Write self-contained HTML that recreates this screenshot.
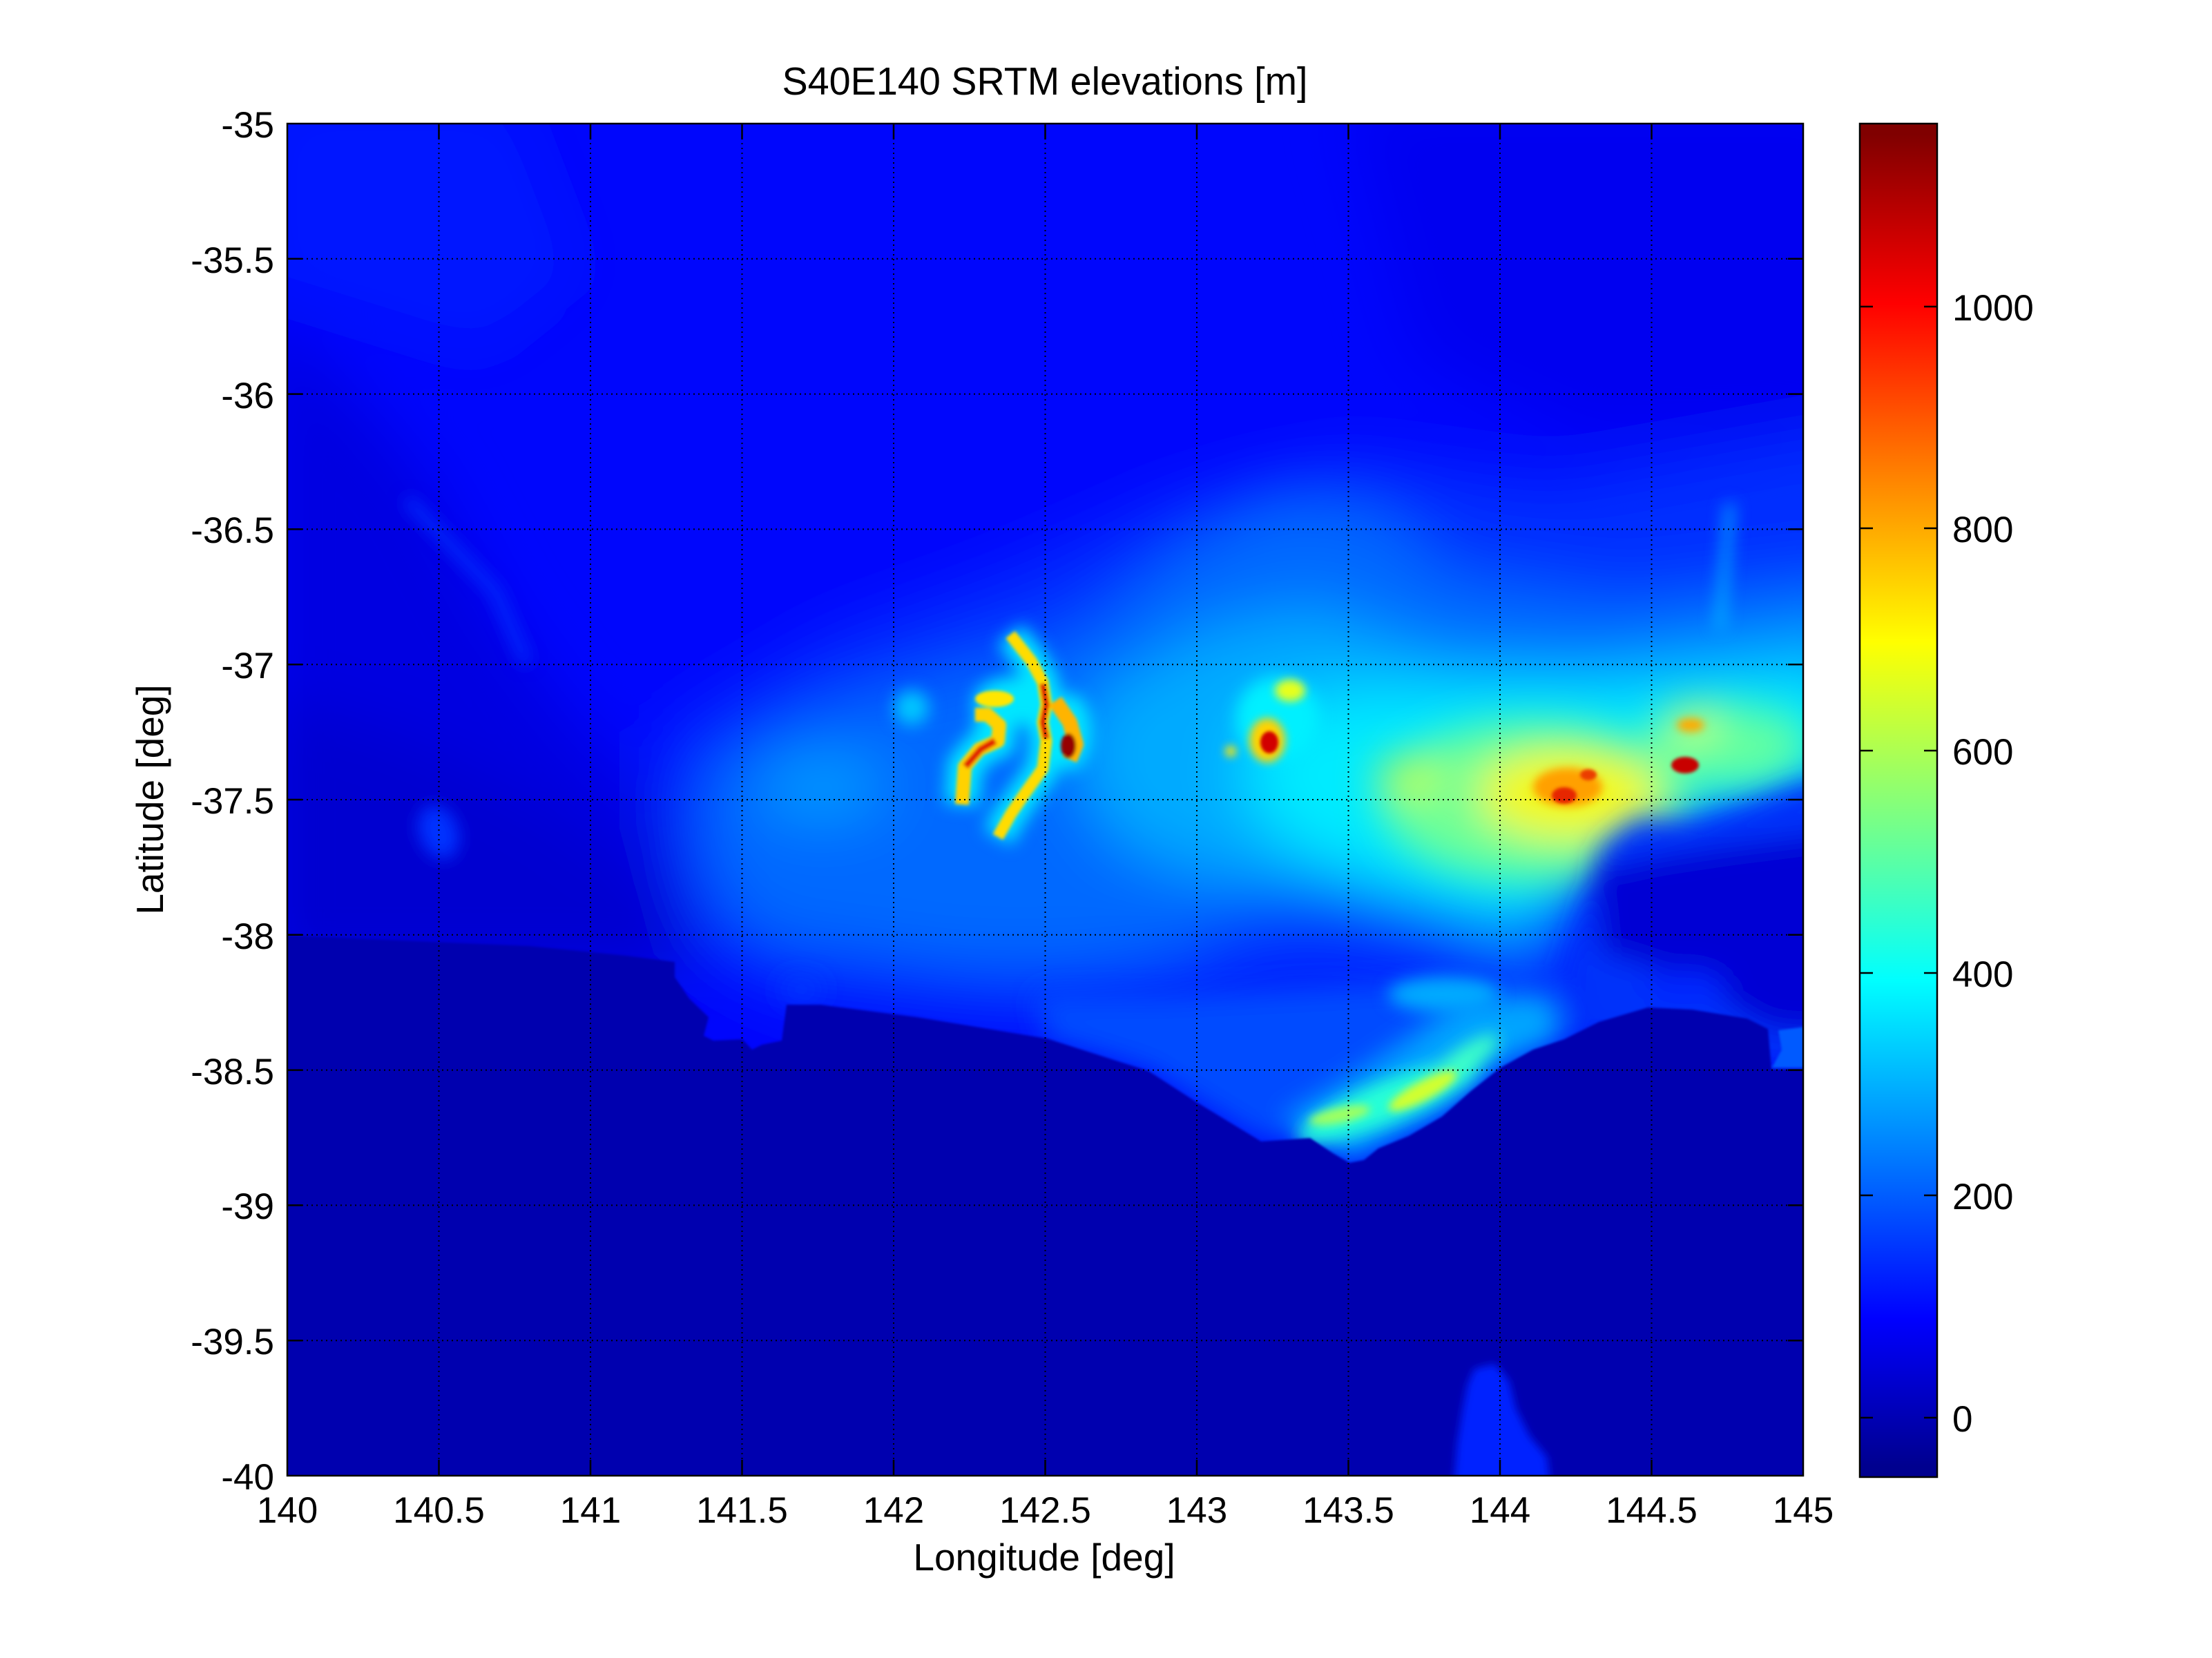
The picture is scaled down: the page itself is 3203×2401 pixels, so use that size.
<!DOCTYPE html>
<html><head><meta charset="utf-8"><style>
html,body{margin:0;padding:0;background:#fff;}
svg{display:block;}
text{font-family:"Liberation Sans",Arial,sans-serif;fill:#000;}
</style></head><body>
<svg width="3203" height="2401" viewBox="0 0 3203 2401" xmlns="http://www.w3.org/2000/svg">
<defs>
<clipPath id="ax"><rect x="416" y="179" width="2195" height="1958"/></clipPath>
<linearGradient id="jet" x1="0" y1="1" x2="0" y2="0">
<stop offset="0.008" stop-color="rgb(0,0,143)"/>
<stop offset="0.117" stop-color="rgb(0,0,255)"/>
<stop offset="0.367" stop-color="rgb(0,255,255)"/>
<stop offset="0.617" stop-color="rgb(255,255,0)"/>
<stop offset="0.867" stop-color="rgb(255,0,0)"/>
<stop offset="0.992" stop-color="rgb(128,0,0)"/>
</linearGradient>
<filter id="b45" filterUnits="userSpaceOnUse" x="200" y="0" width="2700" height="2400"><feGaussianBlur stdDeviation="45"/></filter>
<filter id="b30" filterUnits="userSpaceOnUse" x="200" y="0" width="2700" height="2400"><feGaussianBlur stdDeviation="30"/></filter>
<filter id="b20" filterUnits="userSpaceOnUse" x="200" y="0" width="2700" height="2400"><feGaussianBlur stdDeviation="20"/></filter>
<filter id="b12" filterUnits="userSpaceOnUse" x="200" y="0" width="2700" height="2400"><feGaussianBlur stdDeviation="12"/></filter>
<filter id="b6" filterUnits="userSpaceOnUse" x="200" y="0" width="2700" height="2400"><feGaussianBlur stdDeviation="6"/></filter>
<filter id="b3" filterUnits="userSpaceOnUse" x="200" y="0" width="2700" height="2400"><feGaussianBlur stdDeviation="2.5"/></filter>
<filter id="b1" filterUnits="userSpaceOnUse" x="200" y="0" width="2700" height="2400"><feGaussianBlur stdDeviation="1.5"/></filter>
</defs>

<text x="1513" y="137" text-anchor="middle" font-size="57" textLength="761" lengthAdjust="spacingAndGlyphs">S40E140 SRTM elevations [m]</text>

<g clip-path="url(#ax)">
<rect x="416" y="179" width="2195" height="1958" fill="rgb(0,6,252)"/>
<g filter="url(#b45)">
<polygon points="380,140 750,140 850,400 700,520 380,420" fill="rgb(0,18,255)"/>
<polygon points="1950,140 2700,140 2700,620 2300,640 2050,520" fill="rgb(0,0,240)"/>
<polygon points="380,450 520,575 620,695 722,891 824,1031 926,1137 1003,1242 1028,1368 980,1420 380,1420" fill="rgb(0,0,225)"/>
<polygon points="380,1000 600,1070 800,1170 960,1290 1000,1420 380,1420" fill="rgb(0,0,208)"/>
<polygon points="960,1060 1200,920 1450,830 1700,720 1950,660 2250,700 2700,620 2700,1150 2460,1190 2320,1225 2280,1330 2280,1460 2150,1480 1900,1440 1516,1490 1140,1450 1010,1380 960,1200" fill="rgb(0,45,255)"/>
<polygon points="1010,1130 1150,1040 1350,980 1560,920 1720,790 1850,720 2000,740 2100,830 2350,870 2700,830 2700,1140 2460,1180 2330,1215 2270,1320 2230,1400 2150,1400 2100,1320 1950,1300 1800,1320 1700,1380 1550,1400 1400,1400 1250,1380 1100,1360 1030,1280" fill="rgb(0,105,255)"/>
<polygon points="1580,1010 1750,910 1900,880 2100,950 2300,960 2500,930 2700,900 2700,1140 2460,1180 2330,1215 2280,1300 2200,1340 2050,1310 1900,1280 1750,1270 1620,1220 1560,1120" fill="rgb(0,170,255)"/>
<ellipse cx="1190" cy="1140" rx="90" ry="40" fill="rgb(0,160,255)"/>
<polygon points="1820,1040 1950,1000 2150,1000 2350,1000 2700,980 2700,1140 2460,1180 2330,1210 2270,1300 2150,1320 2000,1280 1870,1230 1800,1150" fill="rgb(0,235,255)"/>
</g>
<g filter="url(#b30)">
<ellipse cx="2220" cy="1160" rx="220" ry="115" fill="rgb(110,255,150)"/>
<ellipse cx="2500" cy="1080" rx="120" ry="60" fill="rgb(100,255,160)"/>
<ellipse cx="2270" cy="1150" rx="130" ry="65" fill="rgb(245,248,10)"/>
<ellipse cx="2040" cy="1125" rx="45" ry="28" fill="rgb(200,255,50)"/>
<ellipse cx="2450" cy="1045" rx="35" ry="20" fill="rgb(240,255,20)"/>
</g>
<g filter="url(#b20)">
<polygon points="2291,1330 2318,1225 2370,1185 2465,1194 2552,1160 2611,1136 2700,1130 2700,1560 2280,1500 2265,1400" fill="rgb(0,50,250)"/>
<polygon points="2310,1260 2400,1240 2500,1225 2700,1200 2700,1500 2560,1490 2480,1440 2390,1400 2320,1380" fill="rgb(0,0,212)"/>
<ellipse cx="2440" cy="1430" rx="60" ry="25" fill="rgb(0,40,255)"/>
<polygon points="1500,1440 1700,1440 1900,1430 2100,1420 2250,1440 2265,1505 2173,1546 2088,1617 1996,1663 1954,1684 1897,1648 1826,1653 1734,1597 1663,1551 1516,1504" fill="rgb(0,75,255)"/>
<polygon points="1860,1625 1960,1565 2050,1505 2120,1450 2250,1440 2265,1500 2173,1546 2088,1617 1996,1663 1954,1684 1897,1648" fill="rgb(0,165,255)"/>
<ellipse cx="1160" cy="1433" rx="30" ry="14" fill="rgb(0,60,255)"/>
</g>
<g filter="url(#b12)">
<ellipse cx="2010" cy="1595" rx="140" ry="30" transform="rotate(-22 2010 1595)" fill="rgb(40,255,215)"/>
<ellipse cx="2120" cy="1535" rx="60" ry="18" transform="rotate(-35 2120 1535)" fill="rgb(60,255,200)"/>
<ellipse cx="2090" cy="1440" rx="80" ry="25" fill="rgb(0,170,255)"/>
<path d="M1393,1165 L1397,1110 L1418,1085 L1445,1073 L1447,1050 L1430,1035 L1412,1035" stroke="rgb(0,230,255)" stroke-width="50" fill="none"/>
<path d="M1463,919 L1493,957 L1510,988 L1515,1020 L1510,1046 L1515,1073 L1510,1113 L1484,1149 L1463,1180 L1445,1212" stroke="rgb(0,230,255)" stroke-width="46" fill="none"/>
<ellipse cx="1470" cy="1015" rx="60" ry="35" fill="rgb(0,230,255)"/>
<ellipse cx="1550" cy="1060" rx="30" ry="55" fill="rgb(0,230,255)"/>
<ellipse cx="1850" cy="1040" rx="60" ry="60" fill="rgb(0,240,255)"/>
<path d="M2505,730 L2490,910" stroke="rgb(0,200,255)" stroke-width="10" fill="none"/>
<path d="M589,723 L717,856 L763,961" stroke="rgb(0,50,255)" stroke-width="14" fill="none"/>
<ellipse cx="635" cy="1205" rx="28" ry="40" transform="rotate(-20 635 1205)" fill="rgb(0,50,255)"/>
<ellipse cx="1320" cy="1025" rx="25" ry="25" fill="rgb(0,200,255)"/>
</g>
<g filter="url(#b6)">
<ellipse cx="2060" cy="1580" rx="55" ry="14" transform="rotate(-28 2060 1580)" fill="rgb(210,255,45)"/>
<ellipse cx="1940" cy="1615" rx="45" ry="11" transform="rotate(-12 1940 1615)" fill="rgb(160,255,95)"/>
<ellipse cx="2270" cy="1140" rx="50" ry="28" fill="rgb(255,160,0)"/>
<ellipse cx="1835" cy="1072" rx="26" ry="32" fill="rgb(255,210,0)"/>
<ellipse cx="1868" cy="1000" rx="22" ry="16" fill="rgb(230,255,30)"/>
<ellipse cx="1782" cy="1088" rx="8" ry="8" fill="rgb(255,230,0)"/>
<ellipse cx="2448" cy="1050" rx="20" ry="10" fill="rgb(255,170,0)"/>
</g>
<g filter="url(#b3)">
<path d="M1393,1165 L1397,1110 L1418,1085 L1445,1073 L1447,1050 L1430,1035 L1412,1035" stroke="rgb(255,210,0)" stroke-width="20" fill="none" stroke-linejoin="round"/>
<path d="M1398,1110 L1420,1085 L1441,1073" stroke="rgb(225,30,0)" stroke-width="10" fill="none"/>
<path d="M1463,919 L1493,957 L1510,988 L1515,1020 L1510,1046 L1515,1073 L1510,1113 L1484,1149 L1463,1180 L1445,1212" stroke="rgb(255,220,0)" stroke-width="17" fill="none" stroke-linejoin="round"/>
<path d="M1510,990 L1515,1020 L1510,1046 L1515,1070" stroke="rgb(220,20,0)" stroke-width="9" fill="none"/>
<path d="M1528,1015 L1549,1046 L1558,1078 L1549,1100" stroke="rgb(255,180,0)" stroke-width="22" fill="none" stroke-linejoin="round"/>
<ellipse cx="1547" cy="1080" rx="11" ry="18" fill="rgb(150,0,0)"/>
<ellipse cx="1440" cy="1012" rx="28" ry="12" fill="rgb(255,230,0)"/>
<ellipse cx="1838" cy="1075" rx="13" ry="16" fill="rgb(210,0,0)"/>
<ellipse cx="2265" cy="1152" rx="18" ry="12" fill="rgb(230,40,0)"/>
<ellipse cx="2300" cy="1122" rx="12" ry="8" fill="rgb(235,60,0)"/>
<ellipse cx="2440" cy="1108" rx="20" ry="12" fill="rgb(200,0,0)"/>
</g>
<g filter="url(#b1)">
<polygon points="380,1353 626,1364 767,1370 907,1384 977,1393 977,1415 998,1446 1026,1473 1019,1500 1033,1507 1075,1505 1089,1520 1103,1513 1132,1507 1139,1455 1188,1455 1328,1473 1516,1504 1663,1551 1734,1597 1826,1653 1870,1650 1897,1648 1930,1670 1954,1684 1975,1680 1996,1663 2040,1645 2088,1617 2130,1580 2173,1546 2220,1520 2265,1505 2315,1480 2386,1459 2450,1462 2530,1475 2560,1490 2565,1548 2700,1548 2700,2200 380,2200" fill="rgb(0,0,175)"/>
<polygon points="2575,1492 2620,1486 2620,1546 2566,1546 2580,1520" fill="rgb(0,90,255)"/>
</g>
<g filter="url(#b6)">
<polygon points="2135,1982 2165,1975 2185,2000 2195,2040 2215,2080 2240,2110 2245,2150 2105,2150 2110,2090 2118,2040 2125,2005" fill="rgb(0,36,255)"/>
</g>
<path stroke="#000" stroke-width="2" stroke-dasharray="2 5" fill="none" d="M635.5,179V2137M855,179V2137M1074.5,179V2137M1294,179V2137M1513.5,179V2137M1733,179V2137M1952.5,179V2137M2172,179V2137M2391.5,179V2137M416,374.8H2611M416,570.6H2611M416,766.4H2611M416,962.2H2611M416,1158H2611M416,1353.8H2611M416,1549.6H2611M416,1745.4H2611M416,1941.2H2611"/>
</g>

<rect x="416" y="179" width="2195" height="1958" fill="none" stroke="#000" stroke-width="2.5"/>
<path stroke="#000" stroke-width="2.5" fill="none" d="M635.5,2137v-23M855,2137v-23M1074.5,2137v-23M1294,2137v-23M1513.5,2137v-23M1733,2137v-23M1952.5,2137v-23M2172,2137v-23M2391.5,2137v-23M635.5,179v23M855,179v23M1074.5,179v23M1294,179v23M1513.5,179v23M1733,179v23M1952.5,179v23M2172,179v23M2391.5,179v23M416,374.8h22M416,570.6h22M416,766.4h22M416,962.2h22M416,1158h22M416,1353.8h22M416,1549.6h22M416,1745.4h22M416,1941.2h22M2611,374.8h-22M2611,570.6h-22M2611,766.4h-22M2611,962.2h-22M2611,1158h-22M2611,1353.8h-22M2611,1549.6h-22M2611,1745.4h-22M2611,1941.2h-22"/>

<g font-size="53" text-anchor="end">
<text x="397" y="199">-35</text>
<text x="397" y="395">-35.5</text>
<text x="397" y="591">-36</text>
<text x="397" y="786">-36.5</text>
<text x="397" y="982">-37</text>
<text x="397" y="1178">-37.5</text>
<text x="397" y="1374">-38</text>
<text x="397" y="1570">-38.5</text>
<text x="397" y="1765">-39</text>
<text x="397" y="1961">-39.5</text>
<text x="397" y="2157">-40</text>
</g>
<g font-size="53" text-anchor="middle">
<text x="416" y="2205">140</text>
<text x="635.5" y="2205">140.5</text>
<text x="855" y="2205">141</text>
<text x="1074.5" y="2205">141.5</text>
<text x="1294" y="2205">142</text>
<text x="1513.5" y="2205">142.5</text>
<text x="1733" y="2205">143</text>
<text x="1952.5" y="2205">143.5</text>
<text x="2172" y="2205">144</text>
<text x="2391.5" y="2205">144.5</text>
<text x="2611" y="2205">145</text>
</g>
<text x="1512" y="2274" font-size="55" text-anchor="middle">Longitude [deg]</text>
<text transform="translate(236,1158) rotate(-90)" font-size="55" text-anchor="middle">Latitude [deg]</text>

<rect x="2693" y="179" width="112" height="1960" fill="url(#jet)" stroke="#000" stroke-width="2.5"/>
<path stroke="#000" stroke-width="2.5" fill="none" d="M2693,2053h19M2693,1731h19M2693,1409h19M2693,1087h19M2693,765h19M2693,444h19M2805,2053h-19M2805,1731h-19M2805,1409h-19M2805,1087h-19M2805,765h-19M2805,444h-19"/>
<g font-size="53">
<text x="2827" y="2073">0</text>
<text x="2827" y="1751">200</text>
<text x="2827" y="1429">400</text>
<text x="2827" y="1107">600</text>
<text x="2827" y="785">800</text>
<text x="2827" y="464">1000</text>
</g>
</svg>
</body></html>
